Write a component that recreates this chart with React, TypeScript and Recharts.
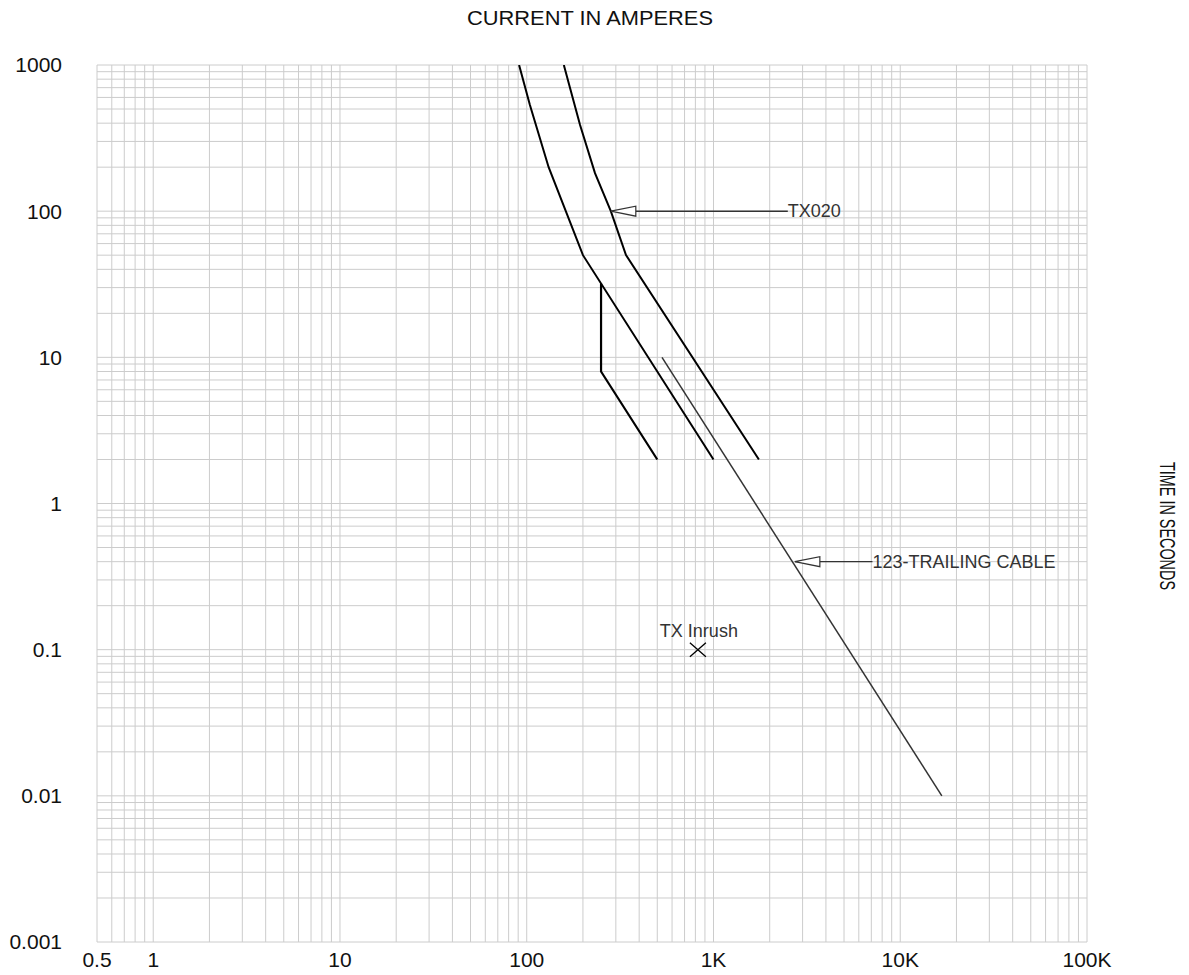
import React from "react";
import {
  ComposedChart,
  Line,
  Scatter,
  XAxis,
  YAxis,
  CartesianGrid,
  ReferenceLine,
  ReferenceDot,
} from "recharts";

// current (A) / time (s) points
const tx020MinAmps = [91, 104, 131, 200, 1000];
const tx020MinSecs = [1000, 532, 200, 50, 2];
const tx020MaxAmps = [158, 170, 193, 232, 282, 340, 1750];
const tx020MaxSecs = [1000, 707, 389, 182, 100, 50, 2];
const tx020InstAmps = [250, 250, 500];
const tx020InstSecs = [32, 8, 2];
const cableAmps = [530, 16700];
const cableSecs = [10, 0.01];
const inrushAmps = [825];
const inrushSecs = [0.1];

// annotation arrows: tip on curve, end of leader at label
const tx020Tip = { amps: 282, end: 2500, secs: 100, text: "TX020" };
const cableTip = { amps: 2727, end: 7100, secs: 0.4, text: "123-TRAILING CABLE" };

const xDecades = [1, 10, 100, 1000, 10000];
const xLabels: Record<string, string> = {
  "0.5": "0.5",
  "1": "1",
  "10": "10",
  "100": "100",
  "1000": "1K",
  "10000": "10K",
  "100000": "100K",
};
const yDecades = [0.001, 0.01, 0.1, 1, 10, 100];
const yLabels: Record<string, string> = {
  "0.001": "0.001",
  "0.01": "0.01",
  "0.1": "0.1",
  "1": "1",
  "10": "10",
  "100": "100",
  "1000": "1000",
};
const steps = [1, 2, 3, 4, 5, 6, 7, 8, 9];

const xTicks = [0.5, 0.6, 0.7, 0.8, 0.9]
  .concat(...xDecades.map((d) => steps.map((s) => +(d * s).toPrecision(6))))
  .concat([100000]);
const yTicks = yDecades
  .flatMap((d) => steps.map((s) => +(d * s).toPrecision(6)))
  .concat([1000]);

const zip = (a: number[], t: number[]) => a.map((i, k) => ({ i, t: t[k] }));

const font = "'Liberation Sans', Arial, sans-serif";

const ArrowHead = (props: any) => {
  const { cx, cy } = props;
  return (
    <path
      d={`M${cx},${cy} L${cx + 25},${cy - 5} L${cx + 25},${cy + 5} Z`}
      fill="#fff"
      stroke="#333"
      strokeWidth={1.2}
    />
  );
};

const makeTag = (text: string) => (props: any) => (
  <text x={props.cx} y={props.cy} dy="0.35em" fontSize={18} fill="#333" fontFamily={font}>
    {text}
  </text>
);

const InrushMark = (props: any) => {
  const { cx, cy } = props;
  return (
    <g>
      <path
        d={`M${cx - 8},${cy - 7} L${cx + 8},${cy + 7} M${cx - 8},${cy + 7} L${cx + 8},${cy - 7}`}
        stroke="#000"
        strokeWidth={1.3}
      />
      <text x={cx + 1} y={cy - 19} dy="0.35em" textAnchor="middle" fontSize={18} fill="#333" fontFamily={font}>
        TX Inrush
      </text>
    </g>
  );
};

const App = () => {
  return (
    <div style={{ position: "relative", width: 1173, height: 967, marginBottom: -8 }}>
      <ComposedChart
        width={1173}
        height={967}
        margin={{ top: 57, right: 94, bottom: 0, left: 0 }}
      >
        <CartesianGrid stroke="#cccccc" strokeWidth={1} />
        <XAxis
          type="number"
          dataKey="i"
          scale="log"
          domain={[0.5, 100000]}
          allowDataOverflow
          ticks={xTicks}
          interval={0}
          tickFormatter={(v) => xLabels[String(v)] ?? ""}
          axisLine={false}
          tickLine={false}
          tickSize={0}
          tickMargin={10}
          height={33}
          tick={{ fontSize: 21, fill: "#111", fontFamily: font }}
        />
        <YAxis
          type="number"
          dataKey="t"
          scale="log"
          domain={[0.001, 1000]}
          allowDataOverflow
          ticks={yTicks}
          interval={0}
          tickFormatter={(v) => yLabels[String(v)] ?? ""}
          axisLine={false}
          tickLine={false}
          tickSize={0}
          tickMargin={35}
          width={89}
          tick={{ fontSize: 21, fill: "#111", fontFamily: font }}
        />
        <Line data={zip(tx020MinAmps, tx020MinSecs)} dataKey="t" stroke="#000" strokeWidth={2} dot={false} isAnimationActive={false} />
        <Line data={zip(tx020MaxAmps, tx020MaxSecs)} dataKey="t" stroke="#000" strokeWidth={2} dot={false} isAnimationActive={false} />
        <Line data={zip(tx020InstAmps, tx020InstSecs)} dataKey="t" stroke="#000" strokeWidth={2.2} dot={false} isAnimationActive={false} />
        <Line data={zip(cableAmps, cableSecs)} dataKey="t" stroke="#333" strokeWidth={1.5} dot={false} isAnimationActive={false} />
        <Scatter data={zip(inrushAmps, inrushSecs)} dataKey="t" shape={InrushMark} isAnimationActive={false} />

        <ReferenceLine
          segment={[{ x: tx020Tip.amps, y: tx020Tip.secs }, { x: tx020Tip.end, y: tx020Tip.secs }]}
          stroke="#333"
          strokeWidth={1.5}
        />
        <ReferenceDot x={tx020Tip.amps} y={tx020Tip.secs} shape={ArrowHead} />
        <ReferenceDot x={tx020Tip.end} y={tx020Tip.secs} shape={makeTag(tx020Tip.text)} />

        <ReferenceLine
          segment={[{ x: cableTip.amps, y: cableTip.secs }, { x: cableTip.end, y: cableTip.secs }]}
          stroke="#333"
          strokeWidth={1.2}
        />
        <ReferenceDot x={cableTip.amps} y={cableTip.secs} shape={ArrowHead} />
        <ReferenceDot x={cableTip.end} y={cableTip.secs} shape={makeTag(cableTip.text)} />
      </ComposedChart>
      <svg
        width={1173}
        height={967}
        style={{ position: "absolute", left: 0, top: 0, pointerEvents: "none", overflow: "visible" }}
      >
        <text
          x={582}
          y={10}
          dy="0.35em"
          textAnchor="middle"
          fontSize={20}
          fill="#111"
          fontFamily={font}
          textLength={246}
          lengthAdjust="spacingAndGlyphs"
        >
          CURRENT IN AMPERES
        </text>
        <text
          transform="translate(1160,518) rotate(90)"
          x={0}
          y={0}
          dy="0.35em"
          textAnchor="middle"
          fontSize={22}
          fill="#111"
          fontFamily={font}
          textLength={128}
          lengthAdjust="spacingAndGlyphs"
        >
          TIME IN SECONDS
        </text>
      </svg>
    </div>
  );
};

export default App;
